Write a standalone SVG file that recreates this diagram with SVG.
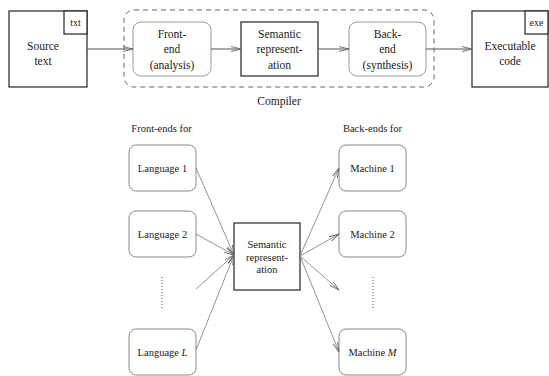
<svg xmlns="http://www.w3.org/2000/svg" width="549" height="376" viewBox="0 0 549 376">
<style>
text{font-family:'Liberation Serif','Liberation Sans',sans-serif;fill:#1a1a1a;text-anchor:middle}
.t{font-size:11.5px}
.b{font-size:10.5px}
.s{font-size:10px}
.box{fill:#fff;stroke:#222;stroke-width:1.2}
.soft{fill:#fff;stroke:#999;stroke-width:1}
.rb{fill:#fff;stroke:#888;stroke-width:1}
.conn{stroke:#555;stroke-width:1;fill:none}
.thin{stroke:#777;stroke-width:0.8;fill:none}
</style>
<defs>
<marker id="ah" markerUnits="userSpaceOnUse" markerWidth="12" markerHeight="8" refX="10" refY="3" orient="auto">
<path d="M0,0.5 L10,3 L0,5.5" fill="none" stroke="#666" stroke-width="0.9"/>
</marker>
</defs>
<g id="compiler">
<rect x="124" y="10" width="310" height="77" rx="10" fill="none" stroke="#666" stroke-width="1" stroke-dasharray="5,4"/>
<text class="t" x="279" y="105">Compiler</text>
</g>
<g id="source">
<rect class="box" x="9" y="11" width="78" height="76"/>
<rect class="box" x="64" y="11" width="23" height="23"/>
<text class="s" x="75.5" y="26">txt</text>
<text class="t" x="43" y="50">Source</text>
<text class="t" x="43" y="65">text</text>
</g>
<g id="frontend">
<rect class="soft" x="133" y="22" width="78" height="54" rx="8"/>
<text class="t" x="172" y="38">Front-</text>
<text class="t" x="172" y="53">end</text>
<text class="t" x="172" y="69">(analysis)</text>
</g>
<g id="semantic-top">
<rect class="box" x="241" y="22" width="77" height="54"/>
<text class="t" x="279.5" y="38">Semantic</text>
<text class="t" x="279.5" y="53">represent-</text>
<text class="t" x="279.5" y="69">ation</text>
</g>
<g id="backend">
<rect class="soft" x="349" y="22" width="77" height="54" rx="8"/>
<text class="t" x="387.5" y="38">Back-</text>
<text class="t" x="387.5" y="53">end</text>
<text class="t" x="387.5" y="69">(synthesis)</text>
</g>
<g id="executable">
<rect class="box" x="472" y="11" width="76" height="76"/>
<rect class="box" x="525" y="11" width="23" height="23"/>
<text class="s" x="536.5" y="26">exe</text>
<text class="t" x="510" y="50">Executable</text>
<text class="t" x="510" y="65">code</text>
</g>
<g id="labels">
<text class="b" x="161.5" y="132">Front-ends for</text>
<text class="b" x="372.5" y="132">Back-ends for</text>
</g>
<g id="lang1"><rect class="rb" x="129" y="145" width="67" height="46" rx="7"/><text class="b" x="162.5" y="172">Language 1</text></g>
<g id="lang2"><rect class="rb" x="129" y="211" width="67" height="46" rx="7"/><text class="b" x="162.5" y="238">Language 2</text></g>
<g id="langL"><rect class="rb" x="129" y="329" width="67" height="46" rx="7"/><text class="b" x="162.5" y="356">Language <tspan font-style="italic">L</tspan></text></g>
<g id="mach1"><rect class="rb" x="339" y="145" width="67" height="46" rx="7"/><text class="b" x="372.5" y="172">Machine 1</text></g>
<g id="mach2"><rect class="rb" x="339" y="211" width="67" height="46" rx="7"/><text class="b" x="372.5" y="238">Machine 2</text></g>
<g id="machM"><rect class="rb" x="339" y="329" width="67" height="46" rx="7"/><text class="b" x="372.5" y="356">Machine <tspan font-style="italic">M</tspan></text></g>
<g id="semantic-bottom">
<rect class="box" x="234" y="223" width="66" height="67" stroke="#444"/>
<text class="b" x="267" y="248">Semantic</text>
<text class="b" x="267" y="261">represent-</text>
<text class="b" x="267" y="273">ation</text>
</g>
<g id="dots">
<line x1="162" y1="277" x2="162" y2="309" stroke="#555" stroke-width="1" stroke-dasharray="1,2"/>
<line x1="373" y1="277" x2="373" y2="309" stroke="#555" stroke-width="1" stroke-dasharray="1,2"/>
</g>
<g id="connectors">
<line class="conn" x1="87" y1="49" x2="133" y2="49" marker-end="url(#ah)"/>
<line class="conn" x1="211" y1="49" x2="241" y2="49" marker-end="url(#ah)"/>
<line class="conn" x1="318" y1="49" x2="349" y2="49" marker-end="url(#ah)"/>
<line class="conn" x1="426" y1="49" x2="472" y2="49" marker-end="url(#ah)"/>
<line class="thin" x1="196" y1="168" x2="234" y2="255" marker-end="url(#ah)"/>
<line class="thin" x1="196" y1="234" x2="234" y2="255" marker-end="url(#ah)"/>
<line class="thin" x1="196" y1="289" x2="234" y2="255" marker-end="url(#ah)"/>
<line class="thin" x1="196" y1="350" x2="234" y2="255" marker-end="url(#ah)"/>
<line class="thin" x1="300" y1="256" x2="339" y2="168" marker-end="url(#ah)"/>
<line class="thin" x1="300" y1="256" x2="339" y2="234" marker-end="url(#ah)"/>
<line class="thin" x1="300" y1="256" x2="339" y2="290" marker-end="url(#ah)"/>
<line class="thin" x1="300" y1="256" x2="339" y2="352" marker-end="url(#ah)"/>
</g>
</svg>
